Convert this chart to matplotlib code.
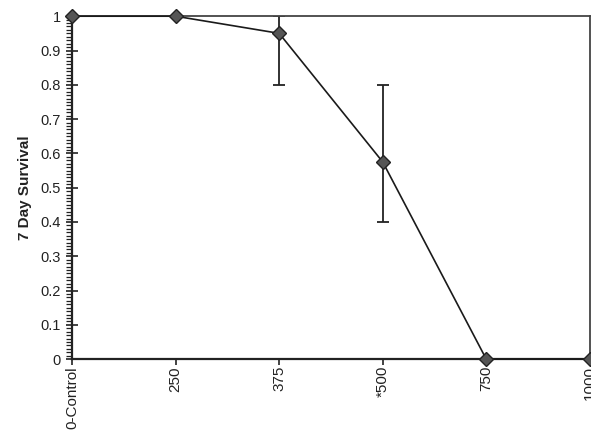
import numpy as np
from matplotlib import pyplot as plt
from matplotlib.ticker import MultipleLocator

doses = ['0-Control', '250', '375', '*500', '750', '1000']
survival = [1.0, 1.0, 0.95, 0.575, 0.0, 0.0]
err_low = [0, 0, 0.15, 0.175, 0, 0]
err_high = [0, 0, 0.05, 0.225, 0, 0]

plt.rcParams['font.family'] = ['Liberation Sans', 'DejaVu Sans']

fig = plt.figure(figsize=(5.91, 4.38), dpi=100)
ax = fig.add_axes([0.122, 0.18, 0.876, 0.783])

x = np.arange(len(doses))
yerr = np.array([[lo if lo else np.nan for lo in err_low],
                 [hi if hi else np.nan for hi in err_high]])
ax.errorbar(x, survival, yerr=yerr, fmt='none', ecolor='#222222',
            elinewidth=1.3, capsize=4.3, capthick=1.3, zorder=2)
ax.plot(x, survival, color='#1a1a1a', lw=1.2, marker='D', markersize=7,
        markerfacecolor='#555555', markeredgecolor='#222222',
        markeredgewidth=1.0, clip_on=False, zorder=3)

ax.set_xlim(0, len(doses) - 1)
ax.set_ylim(0, 1)
ax.set_xticks(x)
ax.set_xticklabels(doses, rotation=90, fontsize=11, color='#222222')
ax.yaxis.set_minor_locator(MultipleLocator(0.01))
ax.set_yticks(np.arange(0, 1.01, 0.1))
ax.set_yticklabels(['0', '0.1', '0.2', '0.3', '0.4', '0.5', '0.6', '0.7',
                    '0.8', '0.9', '1'], fontsize=10.5, color='#222222')
ax.tick_params(axis='y', which='major', direction='inout', length=8,
               width=1.2, color='#222222', pad=4)
ax.tick_params(axis='y', which='minor', direction='out', length=4,
               width=0.9, color='#222222')
ax.tick_params(axis='x', which='major', direction='out', length=4,
               width=1.2, color='#222222', pad=1)
ax.set_ylabel('7 Day Survival', fontsize=11, fontweight='bold',
              color='#222222', labelpad=6)

for side in ['left', 'bottom']:
  ax.spines[side].set_linewidth(1.6)
  ax.spines[side].set_color('#222222')
for side in ['top', 'right']:
  ax.spines[side].set_linewidth(1.3)
  ax.spines[side].set_color('#444444')

plt.savefig('out.png', dpi=100)
